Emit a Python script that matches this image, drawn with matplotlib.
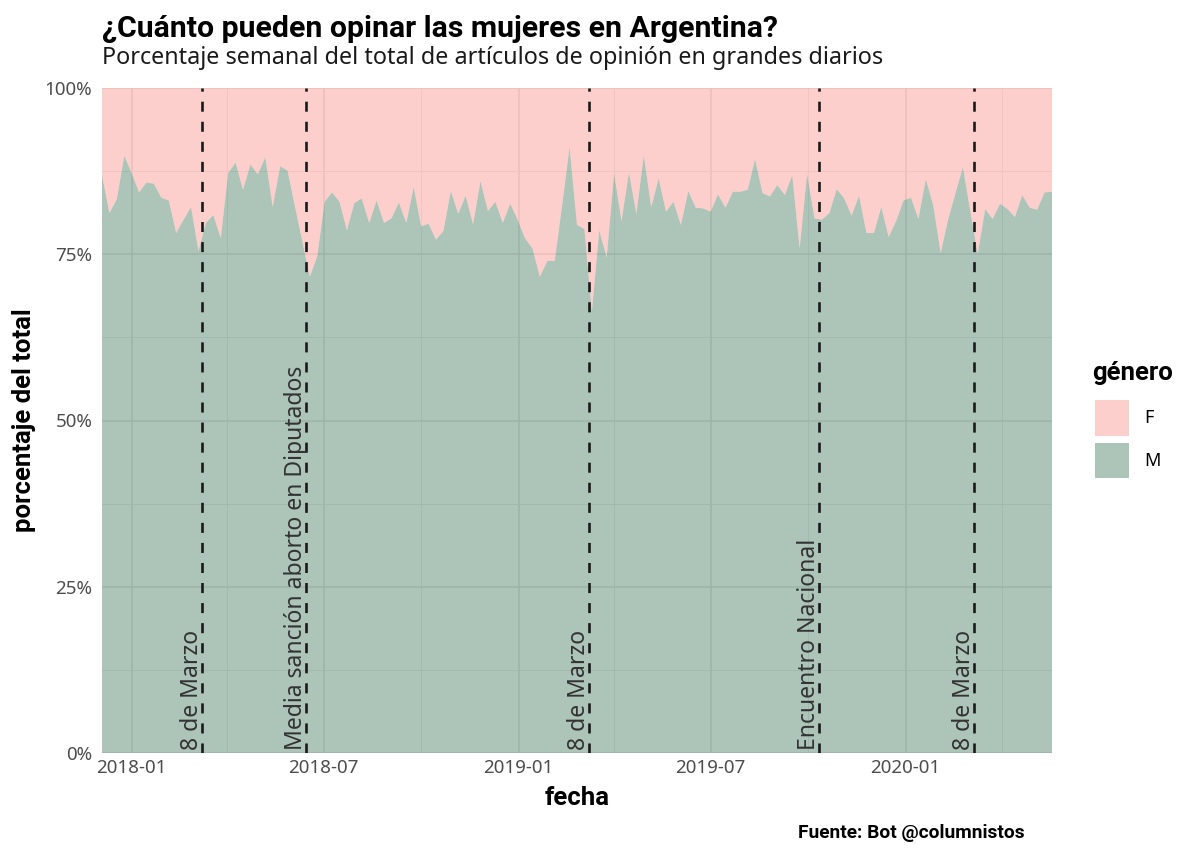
#!/usr/bin/env python

# Weekly share of opinion pieces written by men / women in big Argentine papers

import pandas

import matplotlib
from matplotlib.backends.backend_agg import \
             FigureCanvasAgg as FigureCanvas
from matplotlib.figure import Figure
from matplotlib.patches import Patch
from matplotlib.transforms import ScaledTranslation
import matplotlib.dates as mdates
import matplotlib.ticker as mticker

# Data: weekly % of articles by men (M); women (F) is the rest
first_week='2017-12-04'
pct_m=[86.9,81.2,83.3,89.8,87.2,84.3,85.8,85.6,83.5,83.1,
       78.2,80.2,82.1,75.5,79.7,80.9,77.4,87.2,88.8,84.7,
       88.5,87.0,89.6,82.1,88.2,87.6,82.2,76.9,71.6,74.7,
       82.9,84.3,82.9,78.6,82.7,
       83.4,79.7,83.1,79.7,80.4,82.8,79.7,85.1,79.2,79.6,
       77.2,78.5,84.5,81.1,83.8,79.5,86.0,81.5,82.9,79.7,
       82.6,80.2,77.4,75.9,71.6,74.0,74.0,82.4,91.1,79.4,
       78.8,66.4,78.6,
       74.5,87.2,80.0,87.3,81.1,89.9,82.1,86.4,81.4,82.9,
       79.4,84.5,82.0,81.9,81.4,84.0,82.0,84.4,84.4,84.7,
       89.3,84.2,83.7,85.4,83.9,86.9,75.9,87.1,80.4,80.2,
       81.2,84.8,
       83.4,80.8,83.8,78.2,78.2,82.1,77.6,80.0,83.1,83.5,
       80.3,86.3,82.4,75.2,80.2,84.2,88.1,81.4,75.1,81.8,
       80.3,82.6,81.8,80.6,83.9,82.0,81.7,84.3,84.4]
pct_f=[100-v for v in pct_m]
weeks=pandas.date_range(first_week, periods=len(pct_m), freq='7D')

event_dates=['2018-03-08','2018-06-14','2019-03-08','2019-10-11','2020-03-05']
event_labels=['8 de Marzo','Media sanción aborto en Diputados','8 de Marzo',
              'Encuentro Nacional','8 de Marzo']

x_ticks=['2018-01-01','2018-07-01','2019-01-01','2019-07-01','2020-01-01']
y_ticks=[0,25,50,75,100]

col_f='#F8766D'
col_m='#125934'
fill_alpha=0.35

matplotlib.rcParams['font.family']=['Noto Sans','DejaVu Sans']
bold_font=['Roboto','DejaVu Sans']

fig=Figure(figsize=(12,8.57), dpi=100, facecolor='white')
canvas=FigureCanvas(fig)

ax=fig.add_axes([102/1200, 1-753/857, 950/1200, 665/857])
ax.set_axisbelow(True)
for s in ax.spines.values():
    s.set_visible(False)

ax.stackplot(weeks, pct_m, pct_f, colors=[col_m, col_f],
             alpha=fill_alpha, linewidth=0, edgecolor='none')

ax.set_xlim(weeks[0], weeks[-1])
ax.set_ylim(0, 100)

ax.set_xticks(pandas.to_datetime(x_ticks))
ax.xaxis.set_major_formatter(mdates.DateFormatter('%Y-%m'))
ax.xaxis.set_minor_locator(mdates.MonthLocator(bymonth=[4,10]))
ax.set_yticks(y_ticks)
ax.yaxis.set_minor_locator(mticker.MultipleLocator(12.5))
ax.yaxis.set_major_formatter(mticker.PercentFormatter(decimals=0))

ax.grid(which='major', color='#E6E6E6', linewidth=1.1)
ax.grid(which='minor', color='#EDEDED', linewidth=0.6)
ax.tick_params(which='both', length=0)
ax.tick_params(axis='y', labelsize=13.5, labelcolor='#4D4D4D', pad=7)
ax.tick_params(axis='x', labelsize=13.5, labelcolor='#4D4D4D', pad=4)

# Event markers
shift=ScaledTranslation(-3.5/100, 0, fig.dpi_scale_trans)
for d, lab in zip(event_dates, event_labels):
    d=pandas.Timestamp(d)
    ax.axvline(d, color='#1A1A1A', linewidth=1.9, dashes=(3.8,3.8), zorder=5)
    ax.text(d, 0.45, lab, rotation=90, rotation_mode='anchor',
            ha='left', va='baseline', fontsize=16.5, color='#333333',
            transform=ax.transData+shift, zorder=6)

# Titles and labels
fig.text(102/1200, 1-37/857, '¿Cuánto pueden opinar las mujeres en Argentina?',
         fontsize=21.8, fontweight='bold', family=bold_font,
         va='baseline', ha='left')
fig.text(102/1200, 1-64/857,
         'Porcentaje semanal del total de artículos de opinión en grandes diarios',
         fontsize=16.8, va='baseline', ha='left', color='#1A1A1A')
fig.text(577/1200, 1-805/857, 'fecha', fontsize=18.5, fontweight='bold',
         family=bold_font, ha='center', va='baseline')
fig.text(24/1200, 1-420/857, 'porcentaje del total', fontsize=18.5,
         fontweight='bold', family=bold_font, rotation=90,
         ha='center', va='center')
fig.text(1025/1200, 1-838/857, 'Fuente: Bot @columnistos', fontsize=13.8,
         fontweight='bold', family=bold_font, ha='right', va='baseline')

# Legend
fig.text(1092/1200, 1-380/857, 'género', fontsize=18.5, fontweight='bold',
         family=bold_font, ha='left', va='baseline')
handles=[Patch(facecolor=col_f, alpha=fill_alpha, edgecolor='none'),
         Patch(facecolor=col_m, alpha=fill_alpha, edgecolor='none')]
fig.legend(handles, ['F','M'], loc='upper left',
           bbox_to_anchor=(1095/1200, 1-400/857), frameon=False,
           fontsize=13, handlelength=1.9, handleheight=2.65,
           labelspacing=0.4, handletextpad=0.8, borderpad=0,
           borderaxespad=0)

fig.savefig('out.png')
